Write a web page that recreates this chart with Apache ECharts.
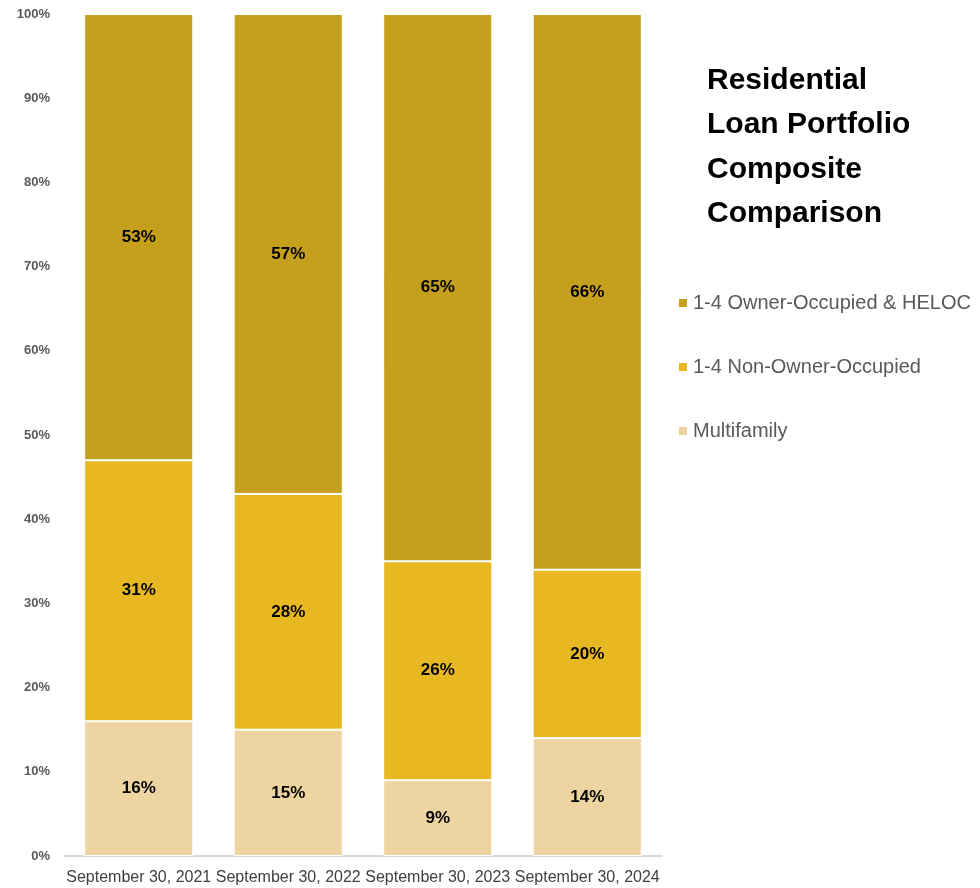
<!DOCTYPE html>
<html>
<head>
<meta charset="utf-8">
<script src="https://cdn.jsdelivr.net/npm/echarts@6/dist/echarts.min.js"></script>
<style>
  html, body { margin: 0; padding: 0; background: #fff; }
  #chart { width: 980px; height: 888px; }
</style>
</head>
<body>
<div id="chart"></div>
<script>
// Residential loan mix by reporting date (percent of portfolio)
const categories = ['September 30, 2021', 'September 30, 2022', 'September 30, 2023', 'September 30, 2024'];
const multifamily = [16, 15, 9, 14];
const nonOwnerOccupied = [31, 28, 26, 20];
const ownerOccupiedHeloc = [53, 57, 65, 66];
const yTicks = { min: 0, max: 100, interval: 10 };

const sans = '"Liberation Sans", Arial, sans-serif';

function stackSeries(name, data, color) {
  return {
    name: name,
    type: 'bar',
    stack: 'total',
    barWidth: '73%',
    data: data,
    itemStyle: { color: color, borderColor: '#ffffff', borderWidth: 1 },
    label: {
      show: true,
      position: 'inside',
      formatter: '{c}%',
      color: '#000000',
      fontFamily: sans,
      fontWeight: 'bold',
      fontSize: 17
    }
  };
}

const chart = echarts.init(document.getElementById('chart'), null, { renderer: 'canvas' });
chart.setOption({
  animation: false,
  backgroundColor: '#ffffff',
  title: {
    text: 'Residential\nLoan Portfolio\nComposite\nComparison',
    left: 702,
    top: 53,
    textStyle: {
      fontFamily: sans,
      fontWeight: 'bold',
      fontSize: 30,
      lineHeight: 44.5,
      color: '#000000'
    }
  },
  legend: {
    orient: 'vertical',
    left: 672,
    top: 288,
    itemWidth: 10,
    itemHeight: 10,
    itemGap: 44,
    icon: 'rect',
    data: ['1-4 Owner-Occupied & HELOC', '1-4 Non-Owner-Occupied', 'Multifamily'],
    textStyle: { fontFamily: sans, fontSize: 20, color: '#595959' }
  },
  grid: { left: 64, right: 318, top: 14, bottom: 32, containLabel: false },
  xAxis: {
    type: 'category',
    data: categories,
    axisLine: { lineStyle: { color: '#d9d9d9', width: 2 } },
    axisTick: { show: false },
    axisLabel: { color: '#404040', fontFamily: sans, fontSize: 16, margin: 14, interval: 0 }
  },
  yAxis: {
    type: 'value',
    min: yTicks.min,
    max: yTicks.max,
    interval: yTicks.interval,
    splitLine: { show: false },
    axisLine: { show: false },
    axisTick: { show: false },
    axisLabel: {
      formatter: '{value}%',
      color: '#595959',
      fontFamily: sans,
      fontWeight: 'bold',
      fontSize: 13,
      margin: 14
    }
  },
  series: [
    stackSeries('Multifamily', multifamily, '#EED4A1'),
    stackSeries('1-4 Non-Owner-Occupied', nonOwnerOccupied, '#E7B822'),
    stackSeries('1-4 Owner-Occupied & HELOC', ownerOccupiedHeloc, '#C5A01C')
  ]
});
</script>
</body>
</html>
